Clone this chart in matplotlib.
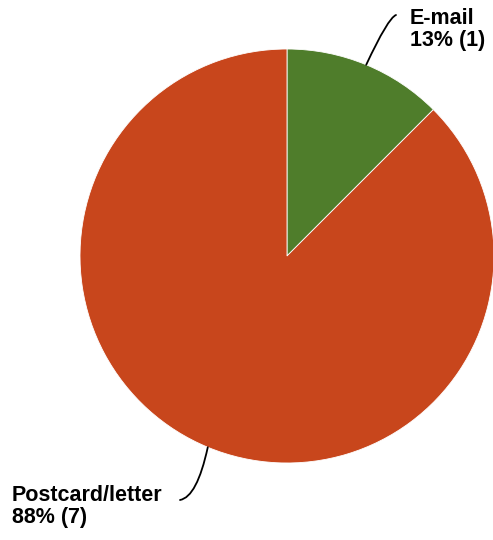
import numpy as np
import matplotlib
matplotlib.use("Agg")
import matplotlib.pyplot as plt
from matplotlib.path import Path
from matplotlib.patches import PathPatch

# Data
categories = ["E-mail", "Postcard/letter"]
counts = [1, 7]
colors = ["#4f7d2b", "#c8461c"]

W, H = 493, 540
fig = plt.figure(figsize=(W / 100, H / 100), dpi=100)
ax = fig.add_axes([0, 0, 1, 1])
ax.set_xlim(0, W)
ax.set_ylim(0, H)
ax.set_aspect("equal")
ax.axis("off")

cx, cy, r = 287, H - 256, 207
wedges, _ = ax.pie(counts, colors=colors, startangle=90, counterclock=False,
                   center=(cx, cy), radius=r, frame=True,
                   wedgeprops=dict(linewidth=0.6, edgecolor="white"))
ax.set_xlim(0, W)
ax.set_ylim(0, H)
ax.axis("off")

total = sum(counts)
pcts = [int(c / total * 100 + 0.5) for c in counts]
font = dict(family=["Liberation Sans", "DejaVu Sans"], fontsize=15.5,
            fontweight="bold", color="black", linespacing=1.05)

# label positions (text anchor, connector end, control point)
label_pos = [((410, H - 8), (396, H - 15), (388, H - 18), "left"),
             ((12, H - 485), (180, H - 500), (197, H - 497), "left")]

for w, cat, c, p, (tp, end, ctrl, ha) in zip(wedges, categories, counts, pcts, label_pos):
    mid = np.deg2rad((w.theta1 + w.theta2) / 2)
    start = (cx + r * np.cos(mid), cy + r * np.sin(mid))
    path = Path([start, ctrl, end], [Path.MOVETO, Path.CURVE3, Path.CURVE3])
    ax.add_patch(PathPatch(path, fill=False, lw=1.3, edgecolor="black",
                           capstyle="round"))
    ax.text(tp[0], tp[1], f"{cat}\n{p}% ({c})", ha=ha, va="top", **font)

fig.savefig("out.png", dpi=100)
